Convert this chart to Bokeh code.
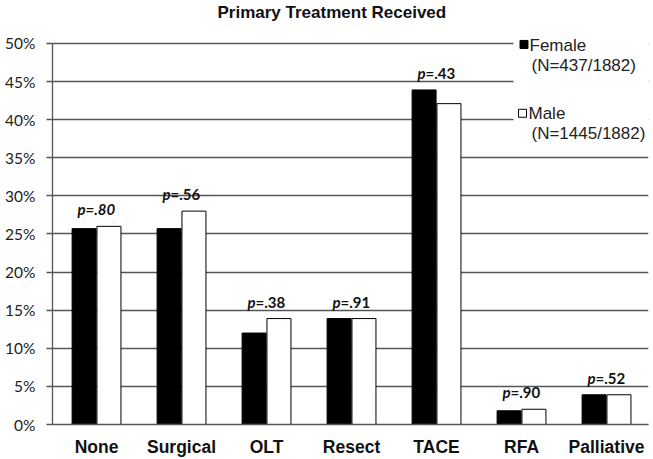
from bokeh.plotting import figure
from bokeh.models import ColumnDataSource, Range1d, FixedTicker, BoxAnnotation
from bokeh.transform import dodge
from bokeh.core.properties import value
from bokeh.embed import file_html
from bokeh.resources import INLINE

# ---- data ----
categories = ["None", "Surgical", "OLT", "Resect", "TACE", "RFA", "Palliative"]
female = [25.7, 25.7, 12.0, 13.9, 43.9, 1.8, 3.9]
male = [26.0, 28.0, 13.9, 13.9, 42.1, 2.0, 3.9]
p_values = [".80", ".56", ".38", ".91", ".43", ".90", ".52"]
y_ticks = [0, 5, 10, 15, 20, 25, 30, 35, 40, 45, 50]
y_tick_labels = ["0%", "5%", "10%", "15%", "20%", "25%", "30%", "35%", "40%", "45%", "50%"]
female_legend = ["Female", "(N=437/1882)"]
male_legend = ["Male", "(N=1445/1882)"]
title_text = "Primary Treatment Received"

# ---- layout helpers (pixel geometry of the frame) ----
W, H = 653, 459
FRAME_LEFT = 52.0      # px of the y axis
FRAME_RIGHT = 648.0
FRAME_TOP = 22.0
FRAME_BOTTOM = 425.0   # px of 0%
PX_PER_CAT = 85.0
X_START = -0.518
PX_PER_PCT = 7.64

def xd(px):
    return X_START + (px - FRAME_LEFT) / PX_PER_CAT

def yd(py):
    return (FRAME_BOTTOM - py) / PX_PER_PCT

idx = list(range(len(categories)))
src = ColumnDataSource(dict(
    x=idx,
    female=female,
    male=male,
    top=[max(f, m) for f, m in zip(female, male)],
    pch=["p"] * len(categories),
    rest=["=" + v for v in p_values],
    style=["bold italic" if i == 0 else "bold" for i in idx],
))

p = figure(width=W, height=H, output_backend="svg", toolbar_location=None,
           x_range=Range1d(X_START, xd(FRAME_RIGHT)),
           y_range=Range1d(0, yd(FRAME_TOP)),
           min_border_left=int(FRAME_LEFT), min_border_right=int(W - FRAME_RIGHT),
           min_border_top=int(FRAME_TOP), min_border_bottom=int(H - FRAME_BOTTOM))
p.outline_line_color = None
p.background_fill_color = "white"
p.border_fill_color = "white"

p.title.text = title_text
p.title.align = "left"
p.title.offset = 217 - FRAME_LEFT
p.title.text_font = "Liberation Sans"
p.title.text_font_style = "bold"
p.title.text_font_size = "17px"
p.title.text_color = "#111111"
p.title.standoff = 1

grid_color = "#555555"
ticker = FixedTicker(ticks=y_ticks)
p.yaxis.ticker = ticker
p.yaxis.bounds = (0, 50)
p.yaxis.major_label_overrides = {t: l for t, l in zip(y_ticks, y_tick_labels)}
p.yaxis.minor_tick_line_color = None
p.yaxis.major_tick_out = 6
p.yaxis.major_tick_in = 0
p.yaxis.major_label_standoff = 11
p.yaxis.axis_line_color = grid_color
p.yaxis.major_tick_line_color = grid_color
p.yaxis.axis_line_width = 1.3
p.yaxis.major_tick_line_width = 1.3
p.yaxis.major_label_text_font = "Lato"
p.yaxis.major_label_text_font_size = "15.5px"
p.yaxis.major_label_text_color = "#222222"

p.xaxis.ticker = FixedTicker(ticks=idx)
p.xaxis.major_label_overrides = {i: c for i, c in zip(idx, categories)}
p.xaxis.major_tick_line_color = None
p.xaxis.minor_tick_line_color = None
p.xaxis.axis_line_color = grid_color
p.xaxis.axis_line_width = 1.3
p.xaxis.major_label_standoff = 6
p.xaxis.major_label_text_font = "Liberation Sans"
p.xaxis.major_label_text_font_style = "bold"
p.xaxis.major_label_text_font_size = "17.5px"
p.xaxis.major_label_text_color = "#111111"

p.xgrid.visible = False
p.ygrid.ticker = ticker
p.ygrid.grid_line_color = grid_color
p.ygrid.grid_line_width = 1.3
p.ygrid.level = "image"

# white panel behind the legend, hiding the grid lines there
cover = BoxAnnotation(left=xd(513), bottom=36.6, fill_color="white", fill_alpha=1.0,
                      line_color=None, level="underlay")
p.add_layout(cover)

bw = 24.0 / PX_PER_CAT
p.vbar(x=dodge("x", -bw / 2 - 0.005, range=p.x_range), top="female", width=bw, source=src,
       fill_color="black", line_color="black", line_width=1)
p.vbar(x=dodge("x", bw / 2 + 0.005, range=p.x_range), top="male", width=bw, source=src,
       fill_color="white", line_color="black", line_width=1)

common = dict(y="top", y_offset=-17, text_baseline="middle", text_font=value("Lato"),
              text_font_size="15px", text_color="#111111", source=src)
p.text(x="x", text="pch", text_align="right", x_offset=-11, text_font_style="bold italic", **common)
p.text(x="x", text="rest", text_align="left", x_offset=-11, text_font_style="style", **common)

# manual legend
leg_font = dict(text_font=value("Liberation Sans"), text_font_size="17px",
                text_color="#222222", text_baseline="middle", text_align="left")
p.scatter(x=[xd(523.5)], y=[yd(44)], marker="square", size=8, fill_color="black", line_color="black")
p.scatter(x=[xd(522)], y=[yd(113)], marker="square", size=8, fill_color="white", line_color="black", line_width=1)
p.text(x=[xd(529), xd(531)], y=[yd(45), yd(65)], text=female_legend, **leg_font)
p.text(x=[xd(528), xd(531)], y=[yd(113), yd(133)], text=male_legend, **leg_font)

open("out.html", "w").write(file_html(p, INLINE))
